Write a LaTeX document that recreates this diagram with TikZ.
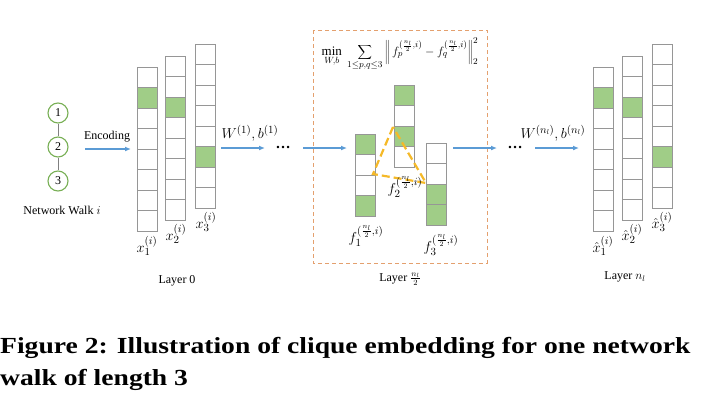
\documentclass[tikz,border=0pt]{standalone}
\usepackage{fontspec}
\setmainfont{Liberation Serif}
\usetikzlibrary{arrows.meta}
\definecolor{cellgray}{RGB}{150,150,150}
\definecolor{cellgreen}{RGB}{160,205,135}
\definecolor{walkgreen}{RGB}{120,175,85}
\definecolor{flowblue}{RGB}{91,155,213}
\definecolor{boxorange}{RGB}{228,160,110}
\definecolor{cliqueyellow}{RGB}{245,185,40}

\begin{document}
\begin{tikzpicture}[x=1pt,y=-1pt,
  cell/.style={draw=cellgray, line width=1pt, fill=white},
  hot/.style={cell, fill=cellgreen},
  flow/.style={draw=flowblue, line width=1.6pt, -{Latex[length=6pt,width=5pt]}},
  walknode/.style={circle, draw=walkgreen, line width=1.1pt, minimum size=20pt, inner sep=0pt, font=\fontsize{12}{12}\selectfont},
  lbl/.style={font=\fontsize{12}{14}\selectfont},
  mlbl/.style={font=\fontsize{15}{17}\selectfont},
  captxt/.style={anchor=base west, inner sep=0pt, font=\fontsize{23}{32}\bfseries}]
\useasboundingbox (0,0) rectangle (720,410);

\node[walknode] (w1) at (58,113) {1};
\node[walknode] (w2) at (58,147) {2};
\node[walknode] (w3) at (58,181) {3};
\draw[gray, line width=1pt] (w1) -- (w2) (w2) -- (w3);
\node[lbl] (walk) at (62,210) {Network Walk $i$};

\foreach \cx/\cy/\g in {137/67/1,165/56/2,195/44/5,593/67/1,622/56/2,652/44/5}{
  \foreach \j in {0,...,7} \draw[cell] (\cx,\cy+\j*20.5) rectangle ++(20,20.5);
  \draw[hot] (\cx,\cy+\g*20.5) rectangle ++(20,20.5);
}
\foreach \cx/\cy in {355/134,394/85,426/143}
  \foreach \j in {0,...,3} \draw[cell] (\cx,\cy+\j*20.5) rectangle ++(20,20.5);
\foreach \cx/\cy in {355/134,355/195.5,394/85,394/126,426/184,426/204.5}
  \draw[hot] (\cx,\cy) rectangle ++(20,20.5);

\draw[boxorange, line width=1pt, dash pattern=on 4pt off 3pt] (313,30) rectangle (487,263);
\draw[cliqueyellow, line width=2.2pt, dash pattern=on 8pt off 4pt] (393,127) -- (373,174) -- (426,183) -- cycle;

\node[mlbl] (x1) at (147,246) {$x_1^{(i)}$};
\node[mlbl] (x2) at (176,234) {$x_2^{(i)}$};
\node[mlbl] (x3) at (206,222) {$x_3^{(i)}$};
\node[mlbl] (xh1) at (603,246) {$\hat{x}_1^{(i)}$};
\node[mlbl] (xh2) at (632,234) {$\hat{x}_2^{(i)}$};
\node[mlbl] (xh3) at (662,222) {$\hat{x}_3^{(i)}$};
\node[mlbl] (f1) at (366,236) {$f_1^{(\frac{n_l}{2},i)}$};
\node[mlbl] (f2) at (405,187) {$f_2^{(\frac{n_l}{2},i)}$};
\node[mlbl] (f3) at (441,245) {$f_3^{(\frac{n_l}{2},i)}$};

\node[font=\fontsize{13}{15}\selectfont] (obj) at (400,54)
  {$\displaystyle\min_{W,b}\ \sum_{1\le p,q\le 3}\left\|\, f_p^{(\frac{n_l}{2},i)} - f_q^{(\frac{n_l}{2},i)}\right\|_2^2$};

\coordinate (enc-s) at (85,149);
\coordinate (enc-e) at (131,149);
\draw[flow] (enc-s) -- (enc-e);
\node[lbl] (enc) at (107,137) {Encoding};

\coordinate (a1-s) at (221,148);
\coordinate (a1-e) at (265,148);
\draw[flow] (a1-s) -- (a1-e);
\node[mlbl] (wb1) at (250,133) {$W^{(1)},b^{(1)}$};
\node[mlbl, font=\fontsize{15}{17}\bfseries] (dots1) at (283,147) {\ldots};
\coordinate (a2-s) at (303,148);
\coordinate (a2-e) at (347,148);
\draw[flow] (a2-s) -- (a2-e);
\coordinate (a3-s) at (453,148);
\coordinate (a3-e) at (497,148);
\draw[flow] (a3-s) -- (a3-e);
\node[mlbl, font=\fontsize{15}{17}\bfseries] (dots2) at (515,147) {\ldots};
\coordinate (a4-s) at (535,148);
\coordinate (a4-e) at (579,148);
\draw[flow] (a4-s) -- (a4-e);
\node[mlbl] (wbn) at (553,133) {$W^{(n_l)},b^{(n_l)}$};

\node[lbl] (lay0) at (177,281) {Layer 0};
\node[lbl] (laymid) at (400,279) {Layer $\frac{n_l}{2}$};
\node[lbl] (layn) at (625,277) {Layer $n_l$};

\node[captxt] (cap1) at (0,353)
  {\scalebox{1.2}[1]{Figure 2: Illustration of clique embedding for one network}};
\node[captxt] (cap2) at (0,385)
  {\scalebox{1.2}[1]{walk of length 3}};
\end{tikzpicture}
\end{document}
